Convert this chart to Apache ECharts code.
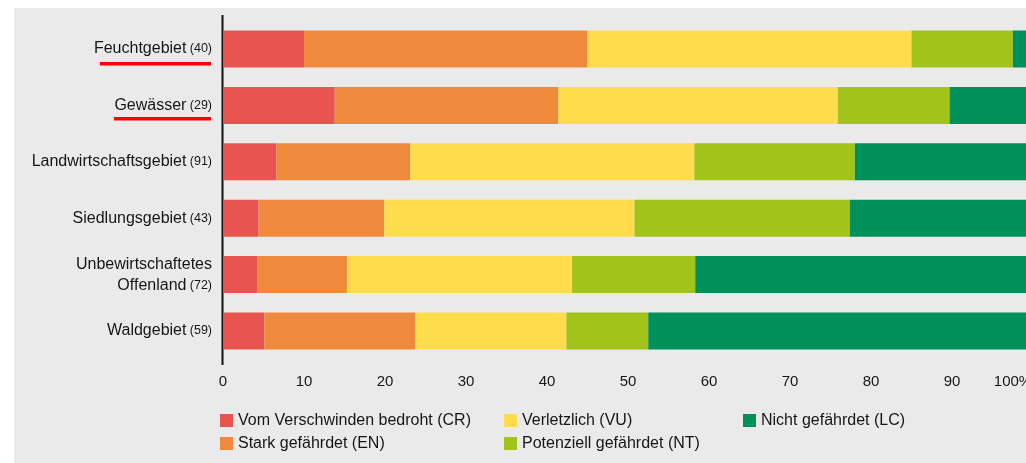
<!DOCTYPE html>
<html>
<head>
<meta charset="utf-8">
<script src="https://cdn.jsdelivr.net/npm/echarts@6/dist/echarts.min.js"></script>
<style>
  html, body { margin: 0; padding: 0; background: #fff; }
  #chart {
    width: 1026px; height: 463px;
    /* grey card, white strip top/left */
    background: linear-gradient(#eaeaea, #eaeaea) 14px 8px / 1012px 455px no-repeat, #fff;
  }
</style>
</head>
<body>
<div id="chart"></div>
<script>
// Lebensraum + Anzahl Arten
var categories = ['Feuchtgebiet', 'Gewässer', 'Landwirtschaftsgebiet', 'Siedlungsgebiet', 'Unbewirtschaftetes\nOffenland', 'Waldgebiet'];
var counts = [40, 29, 91, 43, 72, 59];

// Anteile in %
var crData = [10, 13.8, 6.6, 4.4, 4.2, 5.1];
var enData = [35, 27.6, 16.5, 15.5, 11.1, 18.6];
var vuData = [40, 34.5, 35.1, 30.9, 27.8, 18.7];
var ntData = [12.5, 13.8, 19.8, 26.6, 15.2, 10.1];
var lcData = [2.5, 10.3, 22.0, 22.6, 41.7, 47.5];

var xTicks = [0, 100, 10]; // min, max, interval

var names = ['Vom Verschwinden bedroht (CR)', 'Stark gefährdet (EN)', 'Verletzlich (VU)', 'Potenziell gefährdet (NT)', 'Nicht gefährdet (LC)'];
var colors = ['#e8544f', '#ef893b', '#fedc4b', '#a2c41a', '#00915a'];

var FONT = '"Liberation Sans", Arial, sans-serif';
var TXT = '#161616';

function makeSeries(name, data, color) {
  return {
    name: name,
    type: 'bar',
    stack: 'total',
    barWidth: 37,
    itemStyle: { color: color },
    emphasis: { disabled: true },
    data: data
  };
}

function legendAt(left, items) {
  return {
    orient: 'vertical',
    left: left,
    top: 412,
    padding: 0,
    itemWidth: 13,
    itemHeight: 13,
    itemGap: 6,
    icon: 'rect',
    selectedMode: false,
    data: items,
    textStyle: { fontFamily: FONT, fontSize: 16, color: TXT, lineHeight: 17 }
  };
}

var chart = echarts.init(document.getElementById('chart'));
chart.setOption({
  animation: false,
  textStyle: { fontFamily: FONT },
  grid: {
    left: 223,
    top: 20.8,
    width: 810,
    height: 338.4,
    outerBoundsMode: 'none', // 100% liegt ausserhalb des Bildes
    containLabel: false
  },
  legend: [
    legendAt(220, [names[0], names[1]]),
    legendAt(504, [names[2], names[3]]),
    legendAt(743, [names[4]])
  ],
  xAxis: {
    type: 'value',
    min: xTicks[0],
    max: xTicks[1],
    interval: xTicks[2],
    axisLine: { show: false },
    axisTick: { show: false },
    splitLine: { show: false },
    axisLabel: {
      margin: 15,
      fontSize: 15,
      color: TXT,
      hideOverlap: false,
      formatter: function (v) {
        return v === 100 ? '{p|100%}' : String(v);
      },
      rich: {
        p: { fontSize: 15, color: TXT, padding: [0, 40, 0, 0] }
      }
    }
  },
  yAxis: {
    type: 'category',
    inverse: true,
    data: categories,
    axisLine: { show: false },
    axisTick: { show: false },
    axisLabel: {
      margin: 11,
      formatter: function (v, i) {
        var lines = v.split('\n').map(function (s) { return '{n|' + s + '}'; });
        lines[lines.length - 1] += ' {c|(' + counts[i] + ')}';
        return lines.join('\n');
      },
      rich: {
        n: { fontSize: 16, color: TXT, lineHeight: 21 },
        c: { fontSize: 12.5, color: TXT, lineHeight: 21 }
      }
    }
  },
  // Achsenlinie + rote Markierungen
  graphic: [
    { type: 'line', shape: { x1: 222.5, y1: 15, x2: 222.5, y2: 365 }, style: { stroke: '#111', lineWidth: 2 } },
    { type: 'rect', shape: { x: 100, y: 62, width: 111, height: 3.5 }, style: { fill: '#ff0000' } },
    { type: 'rect', shape: { x: 114, y: 117, width: 97, height: 3.5 }, style: { fill: '#ff0000' } }
  ],
  series: [
    makeSeries(names[0], crData, colors[0]),
    makeSeries(names[1], enData, colors[1]),
    makeSeries(names[2], vuData, colors[2]),
    makeSeries(names[3], ntData, colors[3]),
    makeSeries(names[4], lcData, colors[4])
  ]
});
</script>
</body>
</html>
